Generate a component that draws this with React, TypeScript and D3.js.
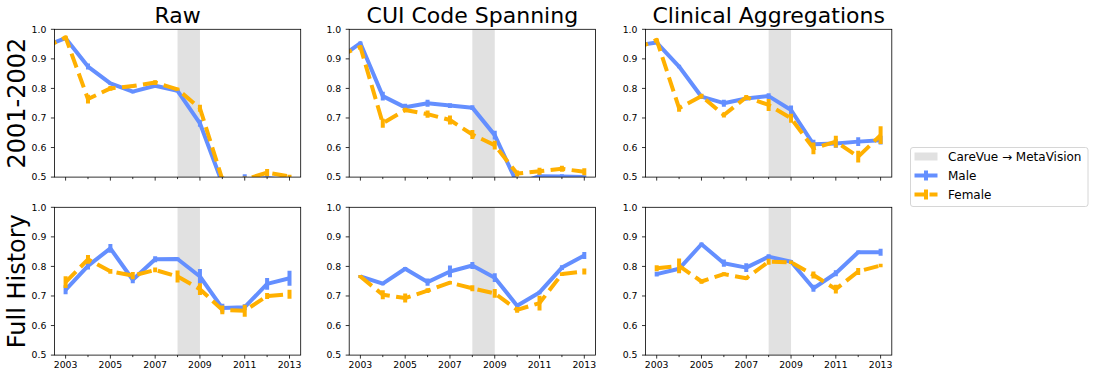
import React from "react";
import * as d3 from "d3";

// ---------- data ----------
const titles = ["Raw", "CUI Code Spanning", "Clinical Aggregations"];
const rowLabels = ["2001-2002", "Full History"];
const yTicks = [0.5, 0.6, 0.7, 0.8, 0.9, 1.0];
const xTickYears = [2003, 2004, 2005, 2006, 2007, 2008, 2009, 2010, 2011, 2012, 2013];
const xLabelYears = [2003, 2005, 2007, 2009, 2011, 2013];
const shadeSpan = [2008, 2009];

const yearsTop = [2002, 2003, 2004, 2005, 2006, 2007, 2008, 2009, 2010, 2011, 2012, 2013];
const yearsBottom = [2003, 2004, 2005, 2006, 2007, 2008, 2009, 2010, 2011, 2012, 2013];

// Row 1 (2001-2002)
const rawTopMale = [0.941, 0.970, 0.874, 0.817, 0.789, 0.809, 0.792, 0.682, 0.479, 0.490, 0.497, 0.490];
const rawTopMaleErr = [0.005, 0.005, 0.01, 0.005, 0.005, 0.005, 0.005, 0.012, 0.01, 0.02, 0.006, 0.01];
const rawTopFemale = [0.935, 0.973, 0.764, 0.800, 0.808, 0.820, 0.797, 0.733, 0.492, 0.492, 0.515, 0.502];
const rawTopFemaleErr = [0.005, 0.005, 0.015, 0.008, 0.005, 0.008, 0.005, 0.012, 0.01, 0.01, 0.012, 0.006];

const cuiTopMale = [0.899, 0.953, 0.774, 0.736, 0.750, 0.742, 0.735, 0.642, 0.479, 0.503, 0.502, 0.500];
const cuiTopMaleErr = [0.005, 0.006, 0.015, 0.012, 0.012, 0.008, 0.008, 0.015, 0.01, 0.008, 0.008, 0.006];
const cuiTopFemale = [0.910, 0.940, 0.682, 0.727, 0.713, 0.693, 0.644, 0.608, 0.512, 0.520, 0.528, 0.518];
const cuiTopFemaleErr = [0.005, 0.006, 0.015, 0.008, 0.012, 0.015, 0.015, 0.015, 0.01, 0.012, 0.01, 0.012];

const clinTopMale = [0.945, 0.955, 0.874, 0.772, 0.750, 0.766, 0.774, 0.727, 0.611, 0.614, 0.620, 0.625];
const clinTopMaleErr = [0.005, 0.005, 0.006, 0.008, 0.012, 0.006, 0.01, 0.015, 0.015, 0.015, 0.015, 0.015];
const clinTopFemale = [0.932, 0.964, 0.733, 0.774, 0.710, 0.770, 0.744, 0.699, 0.597, 0.620, 0.569, 0.642];
const clinTopFemaleErr = [0.005, 0.005, 0.012, 0.008, 0.008, 0.008, 0.02, 0.015, 0.02, 0.02, 0.02, 0.03];

// Row 2 (Full History)
const rawBotMale = [0.721, 0.802, 0.861, 0.755, 0.824, 0.825, 0.766, 0.659, 0.662, 0.741, 0.760];
const rawBotMaleErr = [0.015, 0.012, 0.015, 0.012, 0.01, 0.005, 0.025, 0.015, 0.01, 0.02, 0.025];
const rawBotFemale = [0.747, 0.824, 0.783, 0.769, 0.788, 0.766, 0.723, 0.653, 0.650, 0.700, 0.706];
const rawBotFemaleErr = [0.02, 0.015, 0.008, 0.012, 0.008, 0.02, 0.02, 0.015, 0.02, 0.01, 0.015];

const cuiBotMale = [0.766, 0.742, 0.792, 0.747, 0.783, 0.803, 0.762, 0.667, 0.712, 0.796, 0.837];
const cuiBotMaleErr = [0.005, 0.006, 0.006, 0.012, 0.02, 0.012, 0.015, 0.006, 0.006, 0.008, 0.012];
const cuiBotFemale = [0.766, 0.704, 0.693, 0.718, 0.745, 0.726, 0.709, 0.653, 0.676, 0.774, 0.783];
const cuiBotFemaleErr = [0.005, 0.015, 0.015, 0.008, 0.006, 0.01, 0.015, 0.01, 0.025, 0.006, 0.01];

const clinBotMale = [0.774, 0.792, 0.875, 0.811, 0.796, 0.833, 0.816, 0.726, 0.777, 0.848, 0.848];
const clinBotMaleErr = [0.008, 0.006, 0.006, 0.012, 0.015, 0.008, 0.006, 0.012, 0.01, 0.006, 0.012];
const clinBotFemale = [0.794, 0.802, 0.749, 0.774, 0.760, 0.816, 0.814, 0.771, 0.723, 0.783, 0.803];
const clinBotFemaleErr = [0.01, 0.025, 0.008, 0.006, 0.006, 0.01, 0.006, 0.012, 0.015, 0.012, 0.006];

const seriesNames = ["Male", "Female"];
const shadeLabel = "CareVue \u2192 MetaVision";

// ---------- layout / style ----------
const W = 1095;
const H = 379;
const panelLefts = [54.4, 349.2, 645.5];
const panelW = 246.3;
const rowTops = [29.3, 207.3];
const panelH = 147.8;
const MALE = "#648FFF";
const FEMALE = "#FFB000";
const SHADE = "#e1e1e1";
const FONT = "DejaVu Sans, sans-serif";
const TICK_FONT = 9.3;

type Panel = {
  years: number[];
  male: number[];
  maleErr: number[];
  female: number[];
  femaleErr: number[];
};

const panels: Panel[][] = [
  [
    { years: yearsTop, male: rawTopMale, maleErr: rawTopMaleErr, female: rawTopFemale, femaleErr: rawTopFemaleErr },
    { years: yearsTop, male: cuiTopMale, maleErr: cuiTopMaleErr, female: cuiTopFemale, femaleErr: cuiTopFemaleErr },
    { years: yearsTop, male: clinTopMale, maleErr: clinTopMaleErr, female: clinTopFemale, femaleErr: clinTopFemaleErr },
  ],
  [
    { years: yearsBottom, male: rawBotMale, maleErr: rawBotMaleErr, female: rawBotFemale, femaleErr: rawBotFemaleErr },
    { years: yearsBottom, male: cuiBotMale, maleErr: cuiBotMaleErr, female: cuiBotFemale, femaleErr: cuiBotFemaleErr },
    { years: yearsBottom, male: clinBotMale, maleErr: clinBotMaleErr, female: clinBotFemale, femaleErr: clinBotFemaleErr },
  ],
];

function PanelView({ p, r, c }: { p: Panel; r: number; c: number }) {
  const x0 = panelLefts[c];
  const y0 = rowTops[r];
  const x = d3.scaleLinear().domain([2002.5, 2013.5]).range([x0, x0 + panelW]);
  const y = d3.scaleLinear().domain([0.5, 1.0]).range([y0 + panelH, y0]);
  const line = d3
    .line<number>()
    .x((_, i) => x(p.years[i]))
    .y((v) => y(v));
  const clipId = `clip-${r}-${c}`;
  const drawSeries = (vals: number[], errs: number[], color: string, dashed: boolean) => (
    <g>
      <path
        d={line(vals) || ""}
        fill="none"
        stroke={color}
        strokeWidth={4}
        strokeDasharray={dashed ? "14.8,6.4" : undefined}
        strokeLinejoin="round"
      />
      {vals.map((v, i) => (
        <line
          key={i}
          x1={x(p.years[i])}
          x2={x(p.years[i])}
          y1={y(v - errs[i])}
          y2={y(v + errs[i])}
          stroke={color}
          strokeWidth={4}
        />
      ))}
    </g>
  );
  const bottom = y0 + panelH;
  return (
    <g>
      <defs>
        <clipPath id={clipId}>
          <rect x={x0} y={y0} width={panelW} height={panelH} />
        </clipPath>
      </defs>
      <g clipPath={`url(#${clipId})`}>
        <rect
          x={x(shadeSpan[0])}
          y={y0}
          width={x(shadeSpan[1]) - x(shadeSpan[0])}
          height={panelH}
          fill={SHADE}
        />
        {drawSeries(p.male, p.maleErr, MALE, false)}
        {drawSeries(p.female, p.femaleErr, FEMALE, true)}
      </g>
      <rect x={x0} y={y0} width={panelW} height={panelH} fill="none" stroke="#000" strokeWidth={0.8} />
      {yTicks.map((t) => (
        <g key={t}>
          <line x1={x0 - 3.5} x2={x0} y1={y(t)} y2={y(t)} stroke="#000" strokeWidth={0.8} />
          <text x={x0 - 8} y={y(t)} dy="0.35em" textAnchor="end" fontSize={TICK_FONT} fontFamily={FONT} fill="#000">
            {d3.format(".1f")(t)}
          </text>
        </g>
      ))}
      {xTickYears.map((t) => (
        <line
          key={t}
          x1={x(t)}
          x2={x(t)}
          y1={bottom}
          y2={bottom + (xLabelYears.includes(t) ? 3.5 : 2)}
          stroke="#000"
          strokeWidth={0.8}
        />
      ))}
      {r === 1 &&
        xLabelYears.map((t) => (
          <text key={t} x={x(t)} y={bottom + 13.2} textAnchor="middle" fontSize={TICK_FONT} fontFamily={FONT} fill="#000">
            {t}
          </text>
        ))}
      {r === 0 && (
        <text x={x0 + panelW / 2} y={y0 - 6.5} textAnchor="middle" fontSize={22} fontFamily={FONT} fill="#000">
          {titles[c]}
        </text>
      )}
      {c === 0 && (
        <text
          transform={`translate(25,${y0 + panelH / 2}) rotate(-90)`}
          textAnchor="middle"
          fontSize={24}
          fontFamily={FONT}
          fill="#000"
        >
          {rowLabels[r]}
        </text>
      )}
    </g>
  );
}

function Legend() {
  const lx = 910.5;
  const ly = 147.5;
  return (
    <g fontFamily={FONT} fontSize={12}>
      <rect x={lx} y={ly} width={177.5} height={59} rx={2.5} fill="#fff" stroke="#cccccc" strokeWidth={0.8} />
      <rect x={lx + 4} y={ly + 5} width={23} height={8} fill={SHADE} />
      <text x={lx + 37.5} y={ly + 13.5} fill="#000">{shadeLabel}</text>
      {seriesNames.map((name, i) => {
        const cy = ly + 28 + i * 19;
        const color = i === 0 ? MALE : FEMALE;
        return (
          <g key={name}>
            <line
              x1={lx + 4}
              x2={lx + 27}
              y1={cy}
              y2={cy}
              stroke={color}
              strokeWidth={4}
              strokeDasharray={i === 1 ? "10,5" : undefined}
            />
            <line x1={lx + 15.5} x2={lx + 15.5} y1={cy - 5} y2={cy + 5} stroke={color} strokeWidth={4} />
            <text x={lx + 37.5} y={cy + 4.5} fill="#000">{name}</text>
          </g>
        );
      })}
    </g>
  );
}

export default function App() {
  return (
    <svg
      width={W}
      height={H}
      style={{ position: "absolute", left: 0, top: 0, background: "#fff" }}
    >
      <rect width={W} height={H} fill="#fff" />
      {panels.map((row, r) => row.map((p, c) => <PanelView key={`${r}-${c}`} p={p} r={r} c={c} />))}
      <Legend />
    </svg>
  );
}
